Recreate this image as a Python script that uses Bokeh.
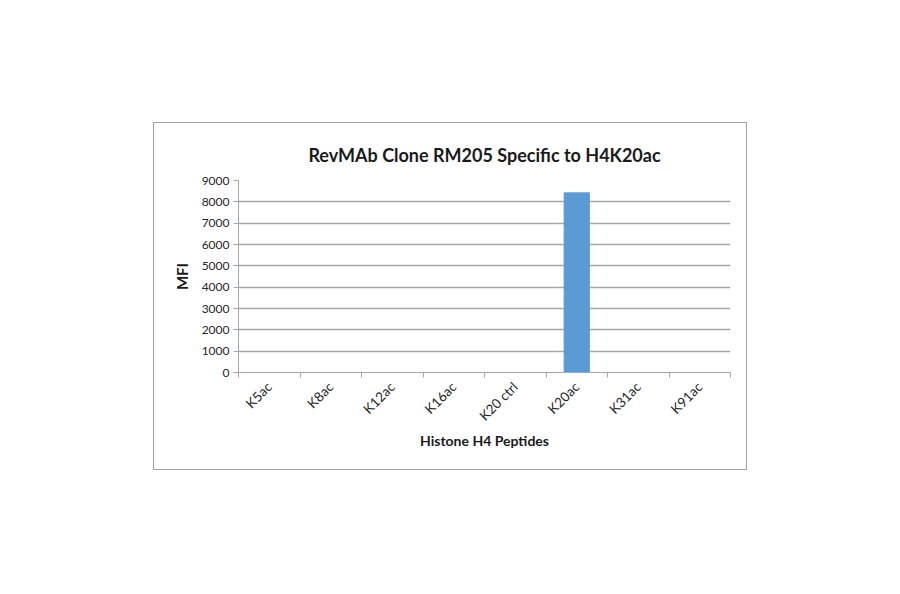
import math
from bokeh.plotting import figure
from bokeh.models import FixedTicker, Range1d, Spacer
from bokeh.layouts import column, row
from bokeh.embed import file_html
from bokeh.resources import INLINE

# ---- data ----
categories = ["K5ac", "K8ac", "K12ac", "K16ac", "K20 ctrl", "K20ac", "K31ac", "K91ac"]
mfi = [0, 0, 0, 0, 0, 8420, 0, 0]
y_ticks = [0, 1000, 2000, 3000, 4000, 5000, 6000, 7000, 8000, 9000]
title_text = "RevMAb Clone RM205 Specific to H4K20ac"
x_label = "Histone H4 Peptides"
y_label = "MFI"

FONT = "Lato"
GRID = "#a6a6a6"

n = len(categories)
xs = [i + 0.5 for i in range(n)]
bounds = [float(i) for i in range(n + 1)]

p = figure(width=594, height=348,
           x_range=Range1d(0, n), y_range=Range1d(y_ticks[0], y_ticks[-1]),
           output_backend="svg", toolbar_location=None,
           min_border_left=84, min_border_right=18,
           min_border_top=57, min_border_bottom=99)
p.styles = {"border": "1px solid #a0a0a0"}
p.outline_line_color = None
p.background_fill_color = "white"
p.border_fill_color = "white"

p.vbar(x=xs, top=mfi, width=0.41, color="#5b9bd5")

# title
p.title.text = title_text
p.title.text_font = FONT
p.title.text_font_size = "18px"
p.title.text_font_style = "bold"
p.title.text_color = "#1a1a1a"
p.title.align = "center"
p.title.offset = 0
p.title.standoff = 30

# grid
p.xgrid.grid_line_color = None
p.ygrid.grid_line_color = GRID
p.ygrid.grid_line_width = 1.3

# y axis
ya = p.yaxis[0]
ya.ticker = FixedTicker(ticks=y_ticks)
ya.axis_line_color = GRID
ya.major_tick_line_color = GRID
ya.major_tick_out = 5
ya.major_tick_in = 0
ya.minor_tick_line_color = None
ya.major_label_text_font = FONT
ya.major_label_text_font_size = "12px"
ya.major_label_text_color = "#262626"
ya.major_label_standoff = 4
ya.axis_label = y_label
ya.axis_label_text_font = FONT
ya.axis_label_text_font_size = "15px"
ya.axis_label_text_font_style = "bold"
ya.axis_label_text_color = "#1a1a1a"
ya.axis_label_standoff = 8

# x axis
xa = p.xaxis[0]
xa.ticker = FixedTicker(ticks=xs, minor_ticks=bounds)
xa.major_label_overrides = {x: c for x, c in zip(xs, categories)}
xa.axis_line_color = GRID
xa.major_tick_line_color = None
xa.minor_tick_line_color = GRID
xa.minor_tick_out = 5
xa.minor_tick_in = 0
xa.major_label_orientation = math.pi / 4
xa.major_label_text_font = FONT
xa.major_label_text_font_size = "13.5px"
xa.major_label_text_color = "#262626"
xa.major_label_standoff = 6
xa.axis_label = x_label
xa.axis_label_text_font = FONT
xa.axis_label_text_font_size = "14px"
xa.axis_label_text_font_style = "bold"
xa.axis_label_text_color = "#1a1a1a"
xa.axis_label_standoff = 0

layout = column(Spacer(height=122), row(Spacer(width=153), p))

open("out.html", "w").write(file_html(layout, INLINE))
